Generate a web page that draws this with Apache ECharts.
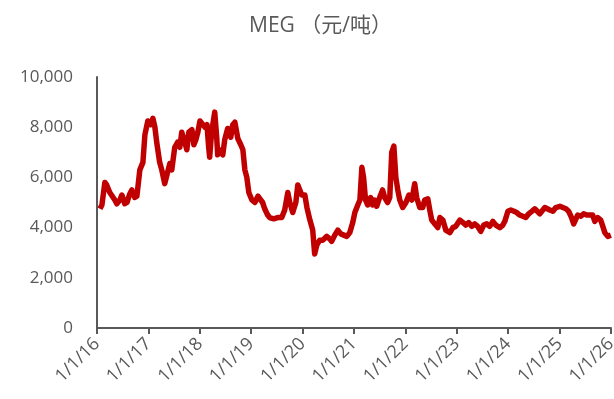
<!DOCTYPE html>
<html>
<head>
<meta charset="utf-8">
<title>MEG</title>
<script src="https://cdn.jsdelivr.net/npm/echarts@6/dist/echarts.min.js"></script>
<style>
  html, body { margin: 0; padding: 0; background: #fff; }
  #chart { width: 614px; height: 399px; }
</style>
</head>
<body>
<div id="chart"></div>
<script>
// ── 数据 ──
const dates = [
  "2016-01-22", "2016-02-05", "2016-02-26", "2016-03-10", "2016-04-01", "2016-04-15", "2016-05-07", "2016-05-21",
  "2016-06-12", "2016-06-26", "2016-07-17", "2016-08-01", "2016-08-22", "2016-09-05", "2016-09-26", "2016-10-11",
  "2016-11-01", "2016-11-23", "2016-12-07", "2016-12-28",
  "2017-01-19", "2017-02-02", "2017-02-16", "2017-03-01", "2017-03-22", "2017-04-06", "2017-04-27", "2017-05-11",
  "2017-06-02", "2017-06-16", "2017-07-07", "2017-07-28", "2017-08-12", "2017-08-26", "2017-09-17", "2017-10-01",
  "2017-10-15", "2017-11-06", "2017-11-20", "2017-12-04", "2017-12-18",
  "2018-01-02", "2018-01-16", "2018-02-07", "2018-02-21", "2018-03-05", "2018-03-12", "2018-03-26", "2018-04-17",
  "2018-05-01", "2018-05-08", "2018-05-22", "2018-06-13", "2018-06-27", "2018-07-18", "2018-08-09", "2018-08-23",
  "2018-09-07", "2018-09-28", "2018-10-19", "2018-11-03", "2018-11-17", "2018-12-01", "2018-12-15",
  "2019-01-06", "2019-01-27", "2019-02-18", "2019-03-02", "2019-03-23", "2019-04-07", "2019-04-28", "2019-05-12",
  "2019-06-10", "2019-07-08", "2019-08-06", "2019-08-27", "2019-09-18", "2019-10-02", "2019-10-23", "2019-11-14",
  "2019-11-28", "2019-12-12", "2019-12-26",
  "2020-01-17", "2020-02-01", "2020-02-22", "2020-03-13", "2020-03-27", "2020-04-11", "2020-05-02", "2020-05-23",
  "2020-06-21", "2020-07-12", "2020-07-26", "2020-08-17", "2020-09-08", "2020-09-29", "2020-10-13", "2020-11-11",
  "2020-12-02", "2020-12-23",
  "2021-01-07", "2021-01-28", "2021-02-12", "2021-02-26", "2021-03-10", "2021-03-24", "2021-04-08", "2021-04-29",
  "2021-05-13", "2021-05-27", "2021-06-11", "2021-07-02", "2021-07-23", "2021-08-07", "2021-08-28", "2021-09-12",
  "2021-09-26", "2021-10-11", "2021-10-25", "2021-11-08", "2021-11-22", "2021-12-13",
  "2022-01-05", "2022-01-26", "2022-02-16", "2022-03-08", "2022-03-22", "2022-04-13", "2022-05-04", "2022-05-18",
  "2022-06-09", "2022-06-23", "2022-07-07", "2022-07-28", "2022-08-19", "2022-09-03", "2022-09-24", "2022-10-15",
  "2022-10-29", "2022-11-13", "2022-12-04", "2022-12-25",
  "2023-01-23", "2023-02-14", "2023-03-05", "2023-03-26", "2023-04-17", "2023-05-08", "2023-05-29", "2023-06-20",
  "2023-07-11", "2023-08-02", "2023-08-23", "2023-09-14", "2023-10-05", "2023-11-03", "2023-11-24", "2023-12-08",
  "2023-12-30",
  "2024-01-20", "2024-02-11", "2024-03-02", "2024-03-23", "2024-04-14", "2024-05-05", "2024-05-26", "2024-06-17",
  "2024-07-08", "2024-07-22", "2024-08-13", "2024-08-27", "2024-09-18", "2024-10-02", "2024-10-23", "2024-11-14",
  "2024-12-05",
  "2025-01-03", "2025-01-24", "2025-02-15", "2025-03-06", "2025-03-27", "2025-04-11", "2025-04-25", "2025-05-09",
  "2025-06-01", "2025-06-21", "2025-07-12", "2025-08-03", "2025-08-24", "2025-09-08", "2025-09-29", "2025-10-20",
  "2025-11-04", "2025-11-18", "2025-12-09", "2025-12-23", "2025-12-31"
];

const prices = [
  4750, 4900, 5800, 5700, 5400, 5350, 5100, 4950,
  5100, 5300, 4950, 5000, 5350, 5500, 5200, 5250,
  6300, 6600, 7700, 8250,
  8100, 8350, 8000, 7400, 6600, 6300, 5750, 5700,
  6550, 6300, 7200, 7400, 7200, 7800, 7400, 7100,
  7800, 7900, 7300, 7500, 7800,
  8250, 8300, 8000, 8100, 7200, 6800, 7800, 8600,
  7600, 6900, 7100, 6900, 7500, 7950, 7600, 8100,
  8200, 7550, 7300, 7100, 6300, 6000, 5400,
  5100, 5000, 5250, 5300, 5000, 4750, 4500, 4400,
  4350, 4400, 4400, 4700, 5400, 5000, 4600, 5000,
  5700, 5750, 5300,
  5300, 4800, 4300, 3900, 2950, 3300, 3500, 3500,
  3650, 3550, 3450, 3700, 3900, 3750, 3700, 3650,
  3800, 4200,
  4600, 4900, 5100, 6400, 6000, 5100, 4900, 5200,
  4900, 5100, 4850, 5200, 5500, 5200, 5000, 5200,
  7000, 7250, 6000, 5500, 5100, 4800,
  5000, 5300, 5100, 5750, 5200, 4800, 4800, 5100,
  5150, 4700, 4300, 4150, 4000, 4400, 4300, 3900,
  3850, 3800, 4000, 4050,
  4300, 4200, 4100, 4200, 4050, 4150, 4050, 3850,
  4100, 4150, 4050, 4250, 4100, 4000, 4100, 4250,
  4650,
  4700, 4650, 4600, 4500, 4450, 4400, 4550, 4650,
  4750, 4800, 4550, 4500, 4800, 4750, 4700, 4650,
  4800,
  4850, 4800, 4750, 4650, 4400, 4150, 4200, 4500,
  4450, 4550, 4500, 4500, 4500, 4250, 4400, 4300,
  4050, 3800, 3650, 3580, 3700
];

const yearTicks = [2016, 2017, 2018, 2019, 2020, 2021, 2022, 2023, 2024, 2025, 2026];

// 日期 → 小数年份
function toYear(s) {
  const d = new Date(s + "T00:00:00Z");
  const y = d.getUTCFullYear();
  const start = Date.UTC(y, 0, 1);
  const end = Date.UTC(y + 1, 0, 1);
  return y + (d.getTime() - start) / (end - start);
}

const seriesData = dates.map((d, i) => [toYear(d), prices[i]]);

const TEXT_COLOR = "#595959";
const AXIS_COLOR = "#595959";

const chart = echarts.init(document.getElementById("chart"), null, { renderer: "canvas" });

chart.setOption({
  animation: false,
  backgroundColor: "#ffffff",
  title: {
    text: "MEG （元/吨）",
    left: 244,
    top: 11,
    textStyle: {
      fontFamily: "'Open Sans', 'Noto Sans CJK SC', sans-serif",
      fontSize: 21,
      fontWeight: "normal",
      color: TEXT_COLOR,
    },
  },
  grid: {
    left: 97,
    right: 3,
    top: 77,
    bottom: 71,
    outerBoundsMode: "none",
  },
  xAxis: {
    type: "value",
    min: yearTicks[0],
    max: yearTicks[yearTicks.length - 1],
    interval: 1,
    splitLine: { show: false },
    axisLine: { show: true, lineStyle: { color: AXIS_COLOR, width: 2 } },
    axisTick: { show: true, length: 6, lineStyle: { color: AXIS_COLOR, width: 2 } },
    axisLabel: {
      rotate: 45,
      margin: 13,
      color: TEXT_COLOR,
      fontSize: 18,
      fontFamily: "'Open Sans', sans-serif",
      showMinLabel: true,
      showMaxLabel: true,
      formatter: (v) => "1/1/" + String(Math.round(v)).slice(2),
    },
  },
  yAxis: {
    type: "value",
    min: 0,
    max: 10000,
    interval: 2000,
    splitLine: { show: false },
    axisLine: { show: true, lineStyle: { color: AXIS_COLOR, width: 2 } },
    axisTick: { show: false },
    axisLabel: {
      margin: 24,
      color: TEXT_COLOR,
      fontSize: 17,
      fontFamily: "'Open Sans', sans-serif",
      formatter: (v) => v.toLocaleString("en-US"),
    },
  },
  series: [
    {
      name: "MEG",
      type: "line",
      data: seriesData,
      showSymbol: false,
      lineStyle: { color: "#C00000", width: 5.5, join: "round" },
      itemStyle: { color: "#C00000" },
    },
  ],
});
</script>
</body>
</html>
